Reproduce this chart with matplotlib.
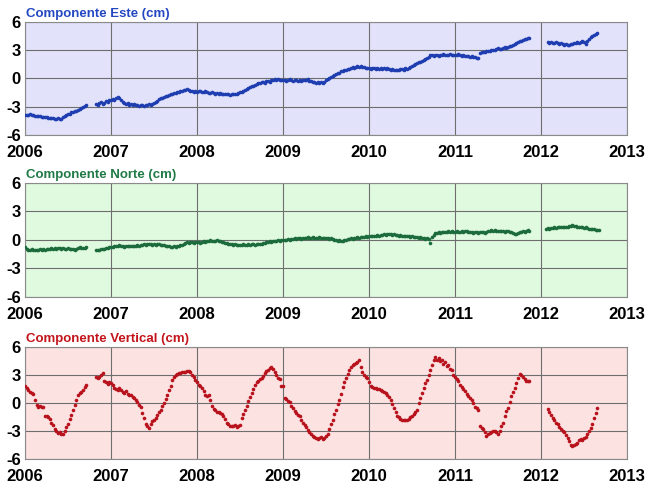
import numpy as np
import matplotlib
matplotlib.use("Agg")
import matplotlib.pyplot as plt

plt.rcParams['font.family'] = ['Liberation Sans', 'DejaVu Sans']

WEEK = 1.0 / 52.0
YEAR0 = 2006

# GPS station displacement, weekly solutions (cm).
# Each segment: (first week index counted from 2006.0, weekly values)

# East component
este_seg1_start = 0
este_seg1 = [
    -3.9, -3.85, -3.9, -3.8, -3.85, -3.9, -3.95, -4.0, -3.95, -4.0, -4.1, -4.05, -4.1,
    -4.1, -4.15, -4.2, -4.15, -4.2, -4.25, -4.3, -4.2, -4.3, -4.25, -4.1, -4.0, -3.9,
    -3.8, -3.75, -3.6, -3.6, -3.5, -3.4, -3.3, -3.2, -3.1, -3.0, -2.9, -2.8,
]
este_seg2_start = 43
este_seg2 = [
    -2.7, -2.85, -2.6, -2.5, -2.75, -2.6, -2.4, -2.45, -2.3,
    -2.3, -2.2, -2.25, -2.1, -1.95, -2.1, -2.3, -2.5, -2.6, -2.7, -2.65, -2.8, -2.75,
    -2.8, -2.75, -2.85, -2.8, -2.9, -2.85, -2.8, -2.9, -2.85, -2.8, -2.75, -2.8, -2.7,
    -2.6, -2.5, -2.4, -2.2, -2.1, -2.05, -2.0, -1.9, -1.85, -1.75, -1.7, -1.6, -1.55,
    -1.5, -1.45, -1.4, -1.3, -1.35, -1.25, -1.2, -1.15, -1.25, -1.3, -1.35, -1.4, -1.35,
    -1.4, -1.3, -1.35, -1.45, -1.4, -1.3, -1.4, -1.5, -1.55, -1.45, -1.5, -1.6, -1.55,
    -1.6, -1.55, -1.65, -1.7, -1.6, -1.65, -1.7, -1.75, -1.65, -1.7, -1.6, -1.65, -1.5,
    -1.4, -1.45, -1.3, -1.2, -1.1, -1.0, -0.9, -0.85, -0.75, -0.7, -0.6, -0.5, -0.45,
    -0.4, -0.35, -0.45, -0.3, -0.25, -0.35, -0.2, -0.15, -0.1, -0.15, -0.05, -0.2, -0.15,
    -0.2, -0.15, -0.25, -0.2, -0.1, -0.2, -0.25, -0.15, -0.2, -0.3, -0.2, -0.25, -0.2,
    -0.15, -0.2, -0.1, -0.25, -0.3, -0.4, -0.35, -0.45, -0.4, -0.5, -0.4, -0.45, -0.35,
    -0.2, -0.1, 0.05, 0.15, 0.25, 0.4, 0.5, 0.55, 0.6, 0.75, 0.8, 0.9, 0.95,
    1.05, 1.0, 1.15, 1.2, 1.1, 1.25, 1.3, 1.2, 1.35, 1.25, 1.2, 1.15, 1.1,
    1.1, 1.05, 1.15, 1.1, 1.05, 1.15, 1.0, 1.1, 1.05, 1.15, 1.0, 1.1, 1.05,
    0.95, 1.0, 0.9, 0.85, 0.95, 0.9, 1.0, 1.05, 0.95, 1.1, 1.05, 1.15, 1.2,
    1.3, 1.4, 1.5, 1.6, 1.7, 1.75, 1.9, 2.0, 2.1, 2.2, 2.3, 2.45, 2.5,
    2.4, 2.45, 2.5, 2.4, 2.5, 2.45, 2.55, 2.5, 2.45, 2.5, 2.55, 2.5, 2.45,
    2.5, 2.45, 2.55, 2.5, 2.4, 2.45, 2.35, 2.4, 2.35, 2.3, 2.35, 2.25, 2.3,
    2.2, 2.15, 2.75, 2.8, 2.85, 2.8, 2.9, 2.95, 2.9, 3.0, 3.05, 3.0, 3.1,
    3.2, 3.1, 3.15, 3.2, 3.3, 3.25, 3.35, 3.5, 3.45, 3.55, 3.7, 3.8, 3.9,
    4.0, 3.95, 4.1, 4.2, 4.15, 4.3, 4.3,
]
este_seg3_start = 316
este_seg3 = [
    3.9, 3.8, 3.85, 3.75, 3.8, 3.85, 3.75, 3.7, 3.75, 3.65, 3.6, 3.65, 3.6,
    3.6, 3.7, 3.65, 3.75, 3.8, 3.85, 3.8, 3.9, 3.95, 3.85, 3.7, 3.95, 4.2,
    4.4, 4.5, 4.6, 4.75, 4.85,
]

# North component
norte_seg1_start = 0
norte_seg1 = [
    -0.8, -1.0, -1.1, -1.05, -1.0, -1.1, -1.05, -1.1, -1.05, -1.0, -1.05, -1.0, -1.05,
    -1.0, -0.95, -1.0, -0.9, -0.95, -0.9, -0.95, -0.85, -0.9, -0.95, -0.9, -1.0, -0.95,
    -0.9, -0.95, -1.0, -0.95, -1.05, -1.0, -0.9, -0.8, -0.85, -0.9, -0.85, -0.8,
]
norte_seg2_start = 43
norte_seg2 = [
    -1.05, -1.1, -1.05, -1.0, -0.95, -1.0, -0.9, -0.85, -0.8,
    -0.8, -0.75, -0.7, -0.65, -0.6, -0.55, -0.65, -0.7, -0.75, -0.7, -0.65, -0.7, -0.65,
    -0.7, -0.6, -0.65, -0.55, -0.6, -0.5, -0.55, -0.45, -0.5, -0.45, -0.4, -0.45, -0.5,
    -0.45, -0.5, -0.4, -0.45, -0.5, -0.55, -0.5, -0.6, -0.65, -0.7, -0.75, -0.8, -0.7,
    -0.75, -0.65, -0.6, -0.55, -0.5, -0.4, -0.3, -0.25, -0.3, -0.2, -0.25, -0.3, -0.25,
    -0.2, -0.25, -0.3, -0.2, -0.15, -0.2, -0.1, -0.15, -0.05, -0.1, -0.15, -0.1, -0.05,
    -0.1, -0.15, -0.2, -0.25, -0.3, -0.35, -0.4, -0.45, -0.4, -0.5, -0.45, -0.55, -0.5,
    -0.55, -0.5, -0.45, -0.5, -0.55, -0.45, -0.5, -0.45, -0.4, -0.5, -0.45, -0.4, -0.45,
    -0.4, -0.35, -0.3, -0.25, -0.2, -0.15, -0.2, -0.1, -0.15, -0.1, -0.05, -0.1, -0.05,
    -0.05, 0.0, -0.05, 0.05, 0.0, 0.1, 0.05, 0.15, 0.1, 0.15, 0.2, 0.1, 0.15,
    0.2, 0.15, 0.25, 0.2, 0.15, 0.25, 0.2, 0.15, 0.2, 0.25, 0.15, 0.2, 0.15,
    0.2, 0.15, 0.1, 0.15, 0.05, 0.0, -0.05, -0.1, -0.05, -0.15, -0.1, -0.05, 0.0,
    0.05, 0.1, 0.15, 0.1, 0.2, 0.15, 0.25, 0.2, 0.3, 0.25, 0.3, 0.35, 0.3,
    0.35, 0.4, 0.35, 0.45, 0.4, 0.5, 0.45, 0.55, 0.5, 0.6, 0.55, 0.6, 0.65,
    0.6, 0.55, 0.6, 0.5, 0.55, 0.45, 0.5, 0.4, 0.45, 0.4, 0.35, 0.4, 0.3,
    0.35, 0.3, 0.25, 0.3, 0.2, 0.25, 0.15, 0.2, 0.1, 0.15, 0.05, -0.3, 0.3,
    0.5, 0.7, 0.75, 0.8, 0.75, 0.85, 0.8, 0.85, 0.8, 0.9, 0.85, 0.9, 0.85,
    0.85, 0.9, 0.85, 0.8, 0.9, 0.85, 0.9, 0.95, 0.85, 0.8, 0.85, 0.75, 0.8,
    0.8, 0.75, 0.8, 0.85, 0.8, 0.75, 0.85, 0.9, 0.95, 1.0, 0.95, 1.0, 0.95,
    0.95, 0.9, 0.95, 0.9, 0.85, 0.95, 0.9, 0.85, 0.8, 0.7, 0.65, 0.6, 0.7,
    0.8, 0.85, 0.9, 0.85, 0.95, 1.0, 0.95,
]
norte_seg3_start = 315
norte_seg3 = [
    1.15, 1.2, 1.15, 1.2, 1.25, 1.3, 1.25, 1.3, 1.35, 1.3, 1.35, 1.4, 1.35,
    1.4, 1.45, 1.5, 1.55, 1.5, 1.45, 1.4, 1.35, 1.4, 1.3, 1.25, 1.3, 1.2,
    1.15, 1.1, 1.15, 1.1, 1.05, 1.0, 1.0,
]

# Vertical component
vert_seg1_start = 0
vert_seg1 = [
    1.8, 1.6, 1.4, 1.2, 1.05, 1.0, 0.3, -0.2, -0.4, -0.35, -0.45, -0.4, -1.35,
    -1.4, -1.5, -1.7, -2.1, -2.4, -2.8, -3.0, -3.2, -3.1, -3.35, -3.3, -3.0, -2.6,
    -2.2, -1.7, -1.3, -0.7, -0.2, 0.35, 0.8, 1.05, 1.2, 1.4, 1.7, 1.95,
]
vert_seg2_start = 43
vert_seg2 = [
    2.75, 2.7, 2.8, 3.0, 3.2, 2.3, 2.25, 2.0, 2.2,
    2.1, 1.9, 1.6, 1.5, 1.4, 1.55, 1.4, 1.2, 1.05, 1.3, 1.0, 0.9, 0.8,
    0.65, 0.5, 0.3, 0.1, -0.2, -0.4, -1.05, -1.6, -2.2, -2.5, -2.65, -2.3, -1.95,
    -1.8, -1.6, -1.25, -1.0, -0.7, -0.3, 0.0, 0.4, 0.9, 1.4, 1.8, 2.5, 2.8,
    3.0, 3.1, 3.2, 3.25, 3.3, 3.35, 3.3, 3.4, 3.45, 3.3, 3.0, 2.75, 2.5,
    2.2, 1.95, 1.8, 1.6, 1.3, 0.8, 0.75, 0.8, 0.3, -0.35, -0.6, -0.8, -1.0,
    -1.0, -1.1, -1.2, -1.4, -1.7, -2.1, -2.3, -2.5, -2.45, -2.5, -2.4, -2.55, -2.5,
    -2.4, -1.6, -1.2, -0.7, -0.3, 0.2, 0.6, 1.05, 1.5, 1.95, 2.2, 2.4, 2.6,
    2.65, 2.9, 3.2, 3.4, 3.55, 3.7, 3.9, 3.6, 3.35, 3.0, 2.65, 2.6, 1.85,
    1.8, 0.5, 0.4, 0.2, 0.1, -0.3, -0.5, -0.9, -1.1, -1.3, -1.4, -1.8, -2.1,
    -2.4, -2.6, -2.9, -3.1, -3.35, -3.5, -3.6, -3.7, -3.9, -3.75, -3.6, -3.85, -3.7,
    -3.5, -3.3, -2.8, -2.3, -1.8, -1.2, -0.7, -0.1, 0.35, 1.0, 1.75, 2.2, 2.65,
    3.1, 3.55, 3.8, 4.05, 4.15, 4.25, 4.4, 4.6, 3.9, 3.3, 3.0, 2.8, 2.65,
    2.2, 1.85, 1.75, 1.65, 1.6, 1.5, 1.45, 1.35, 1.25, 1.15, 1.05, 0.9, 0.6,
    0.35, -0.1, -0.55, -1.0, -1.4, -1.55, -1.75, -1.8, -1.85, -1.8, -1.85, -1.7, -1.5,
    -1.4, -1.2, -1.0, -0.7, 0.0, 0.55, 1.1, 1.6, 2.1, 2.5, 3.0, 3.55, 4.1,
    4.65, 4.9, 4.6, 4.8, 4.45, 4.6, 4.2, 4.35, 3.95, 4.05, 3.6, 3.5, 3.0,
    2.8, 2.55, 2.3, 1.95, 1.7, 1.45, 1.25, 1.0, 0.75, 0.55, 0.3, 0.0, -0.4,
    -0.5, -0.8, -2.5, -2.7, -2.8, -3.1, -3.5, -3.3, -3.2, -3.1, -3.0, -3.0, -3.1,
    -3.35, -3.0, -2.5, -2.1, -1.4, -0.9, -0.55, 0.1, 0.7, 1.2, 1.6, 2.1, 2.65,
    3.1, 3.0, 2.75, 2.55, 2.4, 2.35, 2.4,
]
vert_seg3_start = 316
vert_seg3 = [
    -0.65, -1.0, -1.25, -1.6, -1.8, -2.1, -2.3, -2.6, -2.8, -3.0, -3.1, -3.4, -3.7,
    -4.1, -4.5, -4.6, -4.55, -4.4, -4.25, -4.0, -3.9, -3.95, -3.8, -3.6, -3.35, -3.0,
    -2.65, -2.2, -1.6, -1.1, -0.55,
]

year_ticks = [2006, 2007, 2008, 2009, 2010, 2011, 2012, 2013]
cm_ticks = [-6, -3, 0, 3, 6]

panels = [
    ("Componente Este (cm)",
     [(este_seg1_start, este_seg1), (este_seg2_start, este_seg2), (este_seg3_start, este_seg3)],
     "#1d3db0", "#2447c2", "#e2e2fa"),
    ("Componente Norte (cm)",
     [(norte_seg1_start, norte_seg1), (norte_seg2_start, norte_seg2), (norte_seg3_start, norte_seg3)],
     "#1c6b3c", "#1f7a45", "#e0fae0"),
    ("Componente Vertical (cm)",
     [(vert_seg1_start, vert_seg1), (vert_seg2_start, vert_seg2), (vert_seg3_start, vert_seg3)],
     "#b8121c", "#c4141c", "#fde2e2"),
]

fig = plt.figure(figsize=(6.46, 4.83), dpi=100)
fig.patch.set_facecolor("white")

boxes = [
    [0.0387, 0.7205, 0.932, 0.234],
    [0.0387, 0.3855, 0.932, 0.236],
    [0.0387, 0.0497, 0.932, 0.232],
]

for (title, segs, mcolor, tcolor, bg), box in zip(panels, boxes):
    ax = fig.add_axes(box)
    ax.set_facecolor(bg)
    for start, vals in segs:
        t = YEAR0 + (start + np.arange(len(vals))) * WEEK
        ax.plot(t, vals, linestyle="none", marker="o", markersize=2.6,
                markeredgewidth=0, color=mcolor, zorder=3)
    ax.set_xlim(2006, 2013)
    ax.set_ylim(-6, 6)
    ax.set_xticks(year_ticks)
    ax.set_xticklabels([str(y) for y in year_ticks])
    ax.set_yticks(cm_ticks)
    ax.set_yticklabels([str(v) for v in cm_ticks])
    ax.grid(True, color="#6e6e6e", linewidth=0.8, zorder=1)
    ax.set_axisbelow(True)
    for sp in ax.spines.values():
        sp.set_color("#8a8a8a")
        sp.set_linewidth(0.8)
    ax.tick_params(axis="both", length=0, labelsize=12)
    ax.tick_params(axis="x", pad=7)
    ax.tick_params(axis="y", pad=3)
    for lab in ax.get_xticklabels() + ax.get_yticklabels():
        lab.set_fontweight("bold")
    ax.text(0.002, 1.02, title, transform=ax.transAxes, ha="left", va="bottom",
            fontsize=9.5, fontweight="bold", color=tcolor)

fig.savefig("out.png", dpi=100, facecolor="white")
